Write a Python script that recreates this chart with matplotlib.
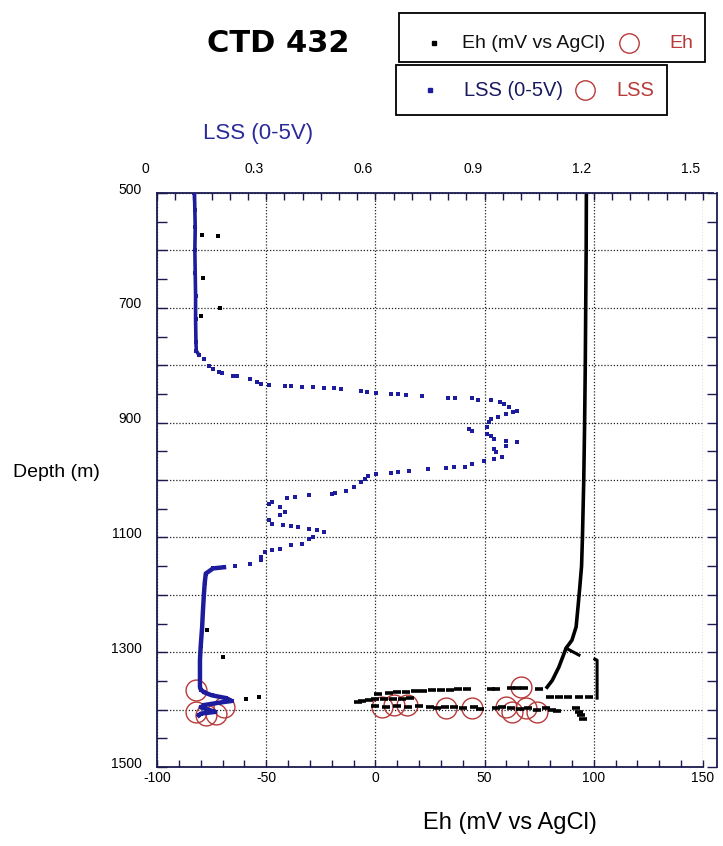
import matplotlib
matplotlib.use('Agg')
import matplotlib.pyplot as plt
import matplotlib.transforms as mtransforms
from matplotlib.lines import Line2D
from matplotlib.patches import Rectangle
from matplotlib.ticker import MultipleLocator, FixedLocator
import numpy as np

# ---------------- data ----------------
# LSS profile (top axis, 0-5 V), depth in m
lss_depth = [500, 530, 560, 600, 640, 680, 720, 760, 775, 782, 790,
             800.9, 806.7, 812.5, 814.2, 818.3, 819.4, 824.1, 829.9, 832.8, 833.9, 835.7,
             836.8, 837.4, 838.6, 839.7, 839.7, 841.5, 845.5, 847.3, 848.4, 850.2, 850.2,
             851.3, 853.1, 857.1, 857.1, 857.1, 860.6, 860.6, 864.7, 867.6, 873.4, 879.2,
             882.1, 885.0, 889.6, 893.6, 899.4, 908.1, 911.0, 915.1, 919.7, 922.6, 928.4,
             931.3, 934.2, 940.0, 945.8, 951.6, 960.3, 963.2, 966.1, 971.9, 976.5, 977.7,
             978.9, 980.6, 983.5, 986.4, 988.1, 989.3, 993.9, 998.0, 1003.8, 1012.5,
             1018.3, 1022.9, 1024.1, 1027.0, 1029.9, 1031.0, 1038.6, 1041.5, 1047.3,
             1056.0, 1061.8, 1070.5, 1076.3, 1079.2, 1080.3, 1082.1, 1085.0, 1087.9,
             1090.8, 1099.4, 1102.3, 1111.0, 1113.9, 1119.7, 1122.6, 1125.5, 1134.2,
             1140, 1147, 1150, 1152, 1154, 1163, 1180, 1198, 1230, 1256, 1290, 1314, 1340,
             1360, 1365, 1370, 1375, 1380, 1385, 1388, 1392, 1396, 1400, 1404, 1407, 1410]
lss_value = [0.103, 0.104, 0.105, 0.104, 0.105, 0.106, 0.106, 0.107, 0.108, 0.115, 0.128,
             0.144, 0.154, 0.169, 0.179, 0.210, 0.220, 0.256, 0.276, 0.286, 0.307, 0.352,
             0.368, 0.398, 0.429, 0.459, 0.485, 0.505, 0.561, 0.576, 0.602, 0.642, 0.663,
             0.683, 0.729, 0.800, 0.820, 0.866, 0.881, 0.917, 0.942, 0.953, 0.968, 0.988,
             0.978, 0.958, 0.937, 0.917, 0.912, 0.907, 0.856, 0.866, 0.907, 0.917, 0.927,
             0.958, 0.988, 0.958, 0.927, 0.932, 0.948, 0.927, 0.897, 0.866, 0.846, 0.815,
             0.795, 0.744, 0.693, 0.663, 0.642, 0.602, 0.581, 0.571, 0.561, 0.541,
             0.520, 0.490, 0.480, 0.418, 0.378, 0.357, 0.317, 0.307, 0.337,
             0.352, 0.337, 0.307, 0.317, 0.347, 0.368, 0.388, 0.418, 0.439,
             0.459, 0.429, 0.418, 0.398, 0.368, 0.337, 0.317, 0.296, 0.286,
             0.286, 0.255, 0.215, 0.184, 0.154, 0.134, 0.131, 0.129, 0.126, 0.124, 0.120,
             0.118, 0.118, 0.118, 0.120, 0.130, 0.150, 0.190, 0.205, 0.170, 0.130, 0.120,
             0.140, 0.160, 0.120, 0.115]

# LSS discrete samples (red circles)
lss_sample_depth = [1366, 1404, 1410, 1407, 1396]
lss_sample_value = [0.106, 0.106, 0.134, 0.161, 0.184]

# Eh profile (bottom axis, mV vs AgCl) - main trace
eh_depth = [500, 600, 700, 800, 900, 1000, 1100, 1150, 1186, 1220, 1256, 1279, 1293,
            1326, 1349, 1361]
eh_value = [96.6, 96.5, 96.3, 96.1, 95.8, 95.4, 94.8, 94.4, 93.6, 92.8, 91.9, 90.0, 87.3,
            84.0, 81.0, 78.6]
# short spur and near-vertical segment near the bottom
eh_spur_depth = [1293, 1305]
eh_spur_value = [87.3, 93.2]
eh_seg_depth = [1312, 1314, 1380]
eh_seg_value = [100.5, 101.5, 101.5]

# Eh scatter at the bottom (rows of readings while stationary)
eh_bot_depth = [1372, 1371, 1370, 1369, 1368, 1367, 1366, 1366, 1365, 1364, 1364, 1364,
                1364, 1363, 1363, 1363, 1364,
                1387, 1385, 1383, 1382, 1382, 1381, 1381, 1380, 1378, 1378, 1378, 1378, 1378,
                1394, 1395, 1393, 1396, 1394, 1395, 1397, 1395, 1396, 1398, 1396, 1399, 1397,
                1396, 1398, 1399, 1397, 1400, 1398, 1401, 1402,
                1398, 1404, 1410, 1416]
eh_bot_value = [1, 6, 10, 14, 18, 22, 26, 30, 34, 38, 42, 53,
                55, 62, 65, 68, 75,
                -8, -6, -3, 0, 4, 8, 12, 16, 80, 84, 88, 93, 98,
                0, 5, 10, 15, 20, 25, 28, 32, 36, 40, 45, 48, 55,
                58, 62, 66, 70, 74, 78, 81, 83,
                92, 93, 94, 95]

# isolated Eh outliers
eh_out_depth = [573, 575, 648, 700, 714, 1262, 1309, 1378, 1382]
eh_out_value = [-79.4, -72.0, -79.0, -71.0, -80.0, -76.9, -69.8, -53.3, -59.4]

# Eh discrete samples (red circles)
eh_sample_depth = [1395, 1392, 1392, 1398, 1398, 1395, 1361, 1404, 1398, 1404]
eh_sample_value = [3.0, 8.5, 14.5, 32.2, 44.3, 59.7, 66.6, 62.5, 69.0, 74.0]

# axes ticks / labels
eh_ticks = [-100, -50, 0, 50, 100, 150]
lss_ticks = [0, 0.3, 0.6, 0.9, 1.2, 1.5]
lss_tick_labels = ['0', '0.3', '0.6', '0.9', '1.2', '1.5']
depth_ticks = [500, 600, 700, 800, 900, 1000, 1100, 1200, 1300, 1400, 1500]
depth_tick_labels = ['500', '', '700', '', '900', '', '1100', '', '1300', '', '1500']

# ---------------- style ----------------
BLUE = '#1c1c9c'
RED = '#b83a3a'
SPINE = '#1a1a50'
W, H = 723, 846

plt.rcParams['font.family'] = ['Liberation Sans', 'DejaVu Sans']
plt.rcParams['axes.unicode_minus'] = False

fig = plt.figure(figsize=(W / 100, H / 100), dpi=100)


def fx(x):
    return x / W


def fy(y):
    return 1 - y / H


ax = fig.add_axes([fx(157), fy(767), (703 - 157) / W, (767 - 193) / H])
ax.set_xlim(-100, 150)
ax.set_ylim(1500, 500)
ax2 = ax.twiny()
ax2.set_xlim(0, 1.5)
ax2.set_ylim(1500, 500)

# grid
ax.set_axisbelow(True)
ax.grid(True, which='major', linestyle=(0, (1, 1.5)), color='#222222', linewidth=0.9)

# red sample circles (below the traces)
ax.plot(eh_sample_value, eh_sample_depth, 'o', ms=15, mfc='none', mec=RED, mew=1.0, zorder=2)
ax2.plot(lss_sample_value, lss_sample_depth, 'o', ms=15, mfc='none', mec=RED, mew=1.0, zorder=2)

# Eh traces
ax.plot(eh_value, eh_depth, '-', color='black', lw=2.6, zorder=3)
ax.plot(eh_spur_value, eh_spur_depth, '-', color='black', lw=2.2, zorder=3)
ax.plot(eh_seg_value, eh_seg_depth, '-', color='black', lw=2.2, zorder=3)
ax.plot(eh_bot_value, eh_bot_depth, '_', color='black', ms=6, mew=2.6, zorder=3)
ax.plot(eh_out_value, eh_out_depth, 's', color='black', ms=3, mew=0, zorder=3)

# LSS trace
ld = np.array(lss_depth)
lv = np.array(lss_value)
top_dense = ld <= 782
bot_dense = ld >= 1152
ax2.plot(lv[top_dense], ld[top_dense], '-', color=BLUE, lw=2.6, zorder=3)
ax2.plot(lv[bot_dense], ld[bot_dense], '-', color=BLUE, lw=3.2, zorder=3)
ax2.plot(lv, ld, 's', color=BLUE, ms=3.4, mew=0, zorder=4)

# ticks
ax.xaxis.set_major_locator(FixedLocator(eh_ticks))
ax.xaxis.set_minor_locator(MultipleLocator(10))
ax.yaxis.set_major_locator(FixedLocator(depth_ticks))
ax.yaxis.set_minor_locator(MultipleLocator(50))
ax.set_yticklabels(depth_tick_labels)
ax2.xaxis.set_major_locator(FixedLocator(lss_ticks))
ax2.xaxis.set_minor_locator(MultipleLocator(0.05))
ax2.set_xticklabels(lss_tick_labels)

ax.tick_params(axis='x', which='both', direction='in', bottom=True, top=False,
               length=5, width=1, color=SPINE, labelsize=10, pad=3)
ax.tick_params(axis='y', which='both', direction='in', left=True, right=True,
               length=7, width=1, color=SPINE, labelsize=10, pad=11)
ax2.tick_params(axis='x', which='both', direction='in', top=True, bottom=False,
                length=5, width=1, color=SPINE, labelsize=10, pad=12)

for side in ['left', 'right', 'bottom']:
    ax2.spines[side].set_visible(False)
ax.spines['top'].set_visible(False)
for sp in [ax.spines['left'], ax.spines['right'], ax.spines['bottom'], ax2.spines['top']]:
    sp.set_color(SPINE)
    sp.set_linewidth(1.3)
ax.spines['right'].set_position(('outward', 10))
# close top-right corner to the offset right spine
fig.add_artist(Line2D([fx(703), fx(713)], [fy(193), fy(193)], color=SPINE, lw=1.3,
                      transform=fig.transFigure))

# texts
fig.text(fx(278), fy(44), 'CTD 432', fontsize=22, fontweight='bold',
         family=['DejaVu Sans'], ha='center', va='center')
fig.text(fx(258), fy(133), 'LSS (0-5V)', fontsize=16, color='#2a2a9a',
         ha='center', va='center')
fig.text(fx(56), fy(472), 'Depth (m)', fontsize=14, ha='center', va='center')
fig.text(fx(510), fy(823), 'Eh (mV vs AgCl)', fontsize=17, ha='center', va='center')

# legend boxes
fig.add_artist(Rectangle((fx(399), fy(62)), (705 - 399) / W, (62 - 13) / H, fill=False,
                         lw=1.3, ec='black', transform=fig.transFigure))
fig.add_artist(Line2D([fx(434)], [fy(43)], marker='s', ms=2.5, color='black', lw=0,
                      transform=fig.transFigure))
fig.text(fx(462), fy(43), 'Eh (mV vs AgCl)', fontsize=14, ha='left', va='center',
         color='#111111')
fig.add_artist(Line2D([fx(629)], [fy(43)], marker='o', ms=14, mfc='none', mec=RED,
                      mew=1.0, lw=0, transform=fig.transFigure))
fig.text(fx(669), fy(43), 'Eh', fontsize=14, ha='left', va='center', color=RED)

fig.add_artist(Rectangle((fx(396), fy(115)), (667 - 396) / W, (115 - 65) / H, fill=False,
                         lw=1.3, ec='black', transform=fig.transFigure))
fig.add_artist(Line2D([fx(430)], [fy(90)], marker='s', ms=2.5, color=BLUE, lw=0,
                      transform=fig.transFigure))
fig.text(fx(464), fy(90), 'LSS (0-5V)', fontsize=14.5, ha='left', va='center',
         color='#1a1a60')
fig.add_artist(Line2D([fx(585)], [fy(90)], marker='o', ms=14, mfc='none', mec=RED,
                      mew=1.0, lw=0, transform=fig.transFigure))
fig.text(fx(616), fy(90), 'LSS', fontsize=14.5, ha='left', va='center', color=RED)

# offset tick labels like the original
fig.canvas.draw()
for lbl in ax2.get_xticklabels():
    lbl.set_transform(lbl.get_transform() +
                      mtransforms.ScaledTranslation(-12 / 100, 0, fig.dpi_scale_trans))
for lbl in ax.get_yticklabels():
    lbl.set_transform(lbl.get_transform() +
                      mtransforms.ScaledTranslation(0, 5 / 100, fig.dpi_scale_trans))

fig.savefig('out.png', dpi=100)
